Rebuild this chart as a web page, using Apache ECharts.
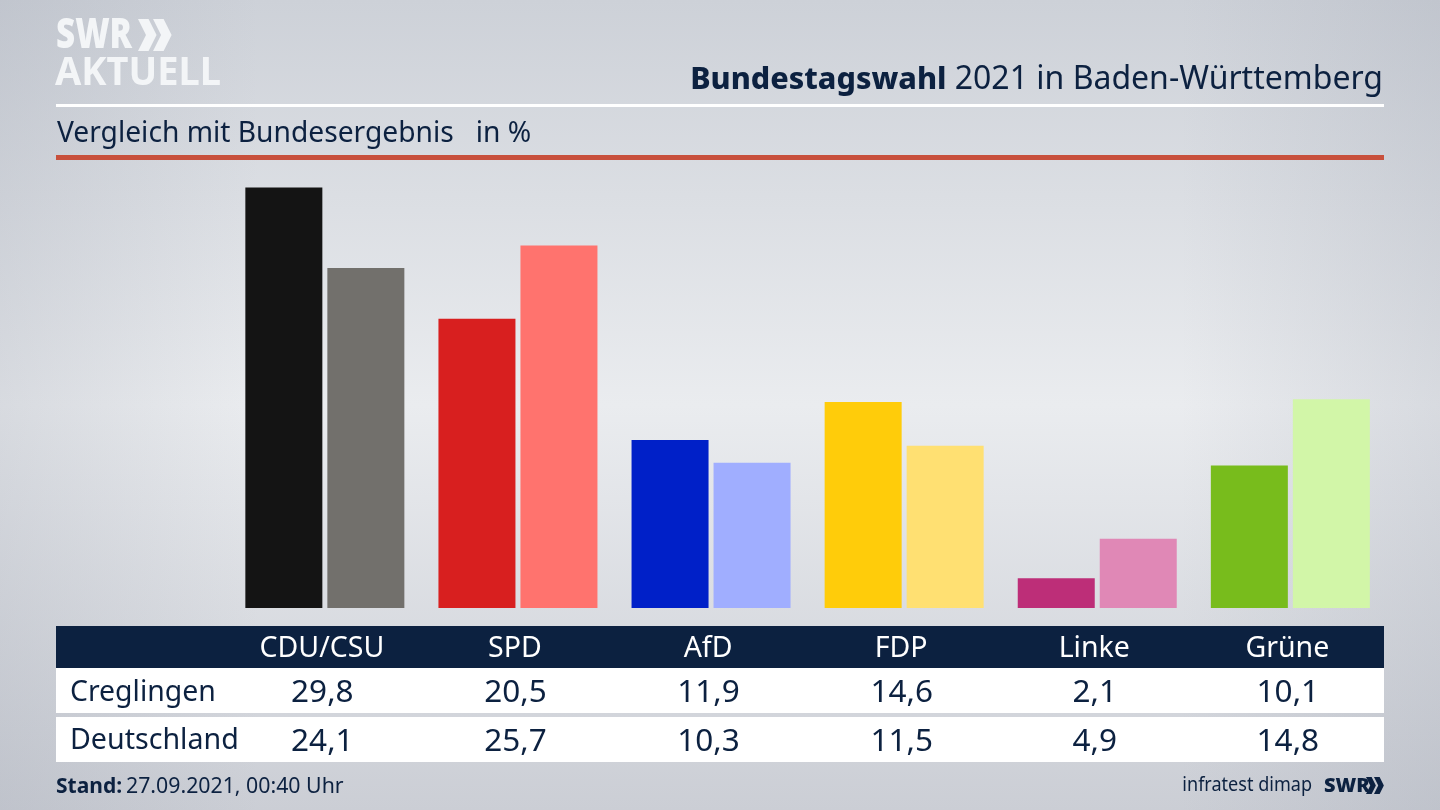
<!DOCTYPE html>
<html><head><meta charset="utf-8">
<style>html,body{margin:0;padding:0;width:1440px;height:810px;overflow:hidden;background:#d8dbe0}#c{width:1440px;height:810px}</style>
<script src="https://cdn.jsdelivr.net/npm/echarts@6/dist/echarts.min.js"></script>
</head><body><div id="c"></div>
<script>
const categories = ['CDU/CSU','SPD','AfD','FDP','Linke','Grüne'];
const creglingen = [29.8,20.5,11.9,14.6,2.1,10.1];
const deutschland = [24.1,25.7,10.3,11.5,4.9,14.8];
const coloursA = ['#141414','#d81f1f','#0020c8','#ffcc0a','#bd2e78','#78bc1c'];
const coloursB = ['#72706c','#ff736e','#a0aeff','#ffe072','#e088b6','#d2f6a8'];
const rowNames = ['Creglingen','Deutschland'];
const navy = '#0c2140';
const font = '"Noto Sans","Open Sans",sans-serif';
const fmt = v => v.toFixed(1).replace('.',',');
const chart = echarts.init(document.getElementById('c'),null,{renderer:'canvas',width:1440,height:810});
const plotBottom = 810-608;
function rowAxis(values, offset){
  return {type:'category',position:'bottom',data:values.map(fmt),offset:offset,
    axisLine:{show:false},axisTick:{show:false},z:10,
    axisLabel:{color:navy,fontFamily:font,fontSize:31.5,margin:0,verticalAlign:'middle',interval:0,padding:[0,5,0,0]}};
}
function chevrons(x,y,h,fill){
  const w=h*0.58,t=h*0.33;
  const one = dx => ({type:'polygon',z:20,silent:true,shape:{points:[
    [x+dx,y],[x+dx+t,y],[x+dx+w,y+h/2],[x+dx+t,y+h],[x+dx,y+h],[x+dx+w-t,y+h/2]]},style:{fill}});
  return [one(0),one(h*0.47)];
}
const rect=(x,y,w,h,fill,z=1)=>({type:'rect',z,silent:true,shape:{x,y,width:w,height:h},style:{fill}});
const text=(x,y,t,size,fill,weight='normal',align='left',extra={},el={})=>Object.assign({type:'text',z:20,silent:true,x,y,style:Object.assign({text:t,font:`${weight} ${size}px ${font}`,fill,textAlign:align,textVerticalAlign:'middle'},extra)},el);
const sideShade = new echarts.graphic.LinearGradient(0,0,1,0,[
  {offset:0,color:'rgba(150,156,170,0.22)'},{offset:0.18,color:'rgba(150,156,170,0)'},
  {offset:0.82,color:'rgba(150,156,170,0)'},{offset:1,color:'rgba(150,156,170,0.22)'}]);
chart.setOption({
  animation:false,
  backgroundColor:new echarts.graphic.LinearGradient(0,0,0,1,[
    {offset:0,color:'#cdd1d8'},{offset:0.5,color:'#eaecef'},{offset:1,color:'#cbced5'}]),
  grid:{left:228.3,right:53.1,top:187.6,bottom:plotBottom},
  xAxis:[
    {type:'category',data:categories,position:'bottom',offset:41,axisLine:{show:false},axisTick:{show:false},z:10,
      axisLabel:{color:'#ffffff',fontFamily:font,fontSize:28.5,margin:0,verticalAlign:'middle',interval:0,padding:[0,6,0,0]}},
    rowAxis(creglingen,85),
    rowAxis(deutschland,134)
  ],
  yAxis:{type:'value',min:0,max:29.8,show:false},
  series:[
    {name:rowNames[0],type:'bar',xAxisIndex:0,barWidth:77,barGap:'6.5%',
      data:creglingen.map((v,i)=>({value:v,itemStyle:{color:coloursA[i]}}))},
    {name:rowNames[1],type:'bar',xAxisIndex:0,barWidth:77,barGap:'6.5%',
      data:deutschland.map((v,i)=>({value:v,itemStyle:{color:coloursB[i]}}))}
  ],
  graphic:[
    Object.assign(rect(0,0,1440,810,sideShade,0),{z:-1}),
    rect(56,104,1328,3,'#ffffff'),
    rect(56,155,1328,5,'#c8503c'),
    rect(56,626,1328,42,navy),
    rect(56,668,1328,45,'#ffffff'),
    rect(56,717,1328,45,'#ffffff'),
    text(56,36,'SWR',42,'#f3f5f7','900','left',{},{scaleX:0.79}),
    text(55,74,'AKTUELL',40,'#f3f5f7','700','left',{},{scaleX:0.95}),
    ...chevrons(138,19,32,'#f3f5f7'),
    text(1383,80,'{b|Bundestagswahl} {r|2021 in Baden-Württemberg}',32,navy,'normal','right',{rich:{
      b:{font:`800 30.5px ${font}`,fill:navy},r:{font:`400 32px ${font}`,fill:navy}}}),
    text(57,134,'Vergleich mit Bundesergebnis   in %',28.2,navy),
    text(70,693,rowNames[0],28.4,navy),
    text(70,741,rowNames[1],28.6,navy),
    text(56,787,'Stand:',21,navy,'700'),
    text(126,787,'27.09.2021, 00:40 Uhr',21.3,navy),
    text(1312,786,'infratest dimap',19,navy,'normal','right',{},{scaleX:0.95}),
    text(1324,786,'SWR',20,navy,'900'),
    ...chevrons(1366,777,17,navy)
  ]
});
</script></body></html>
